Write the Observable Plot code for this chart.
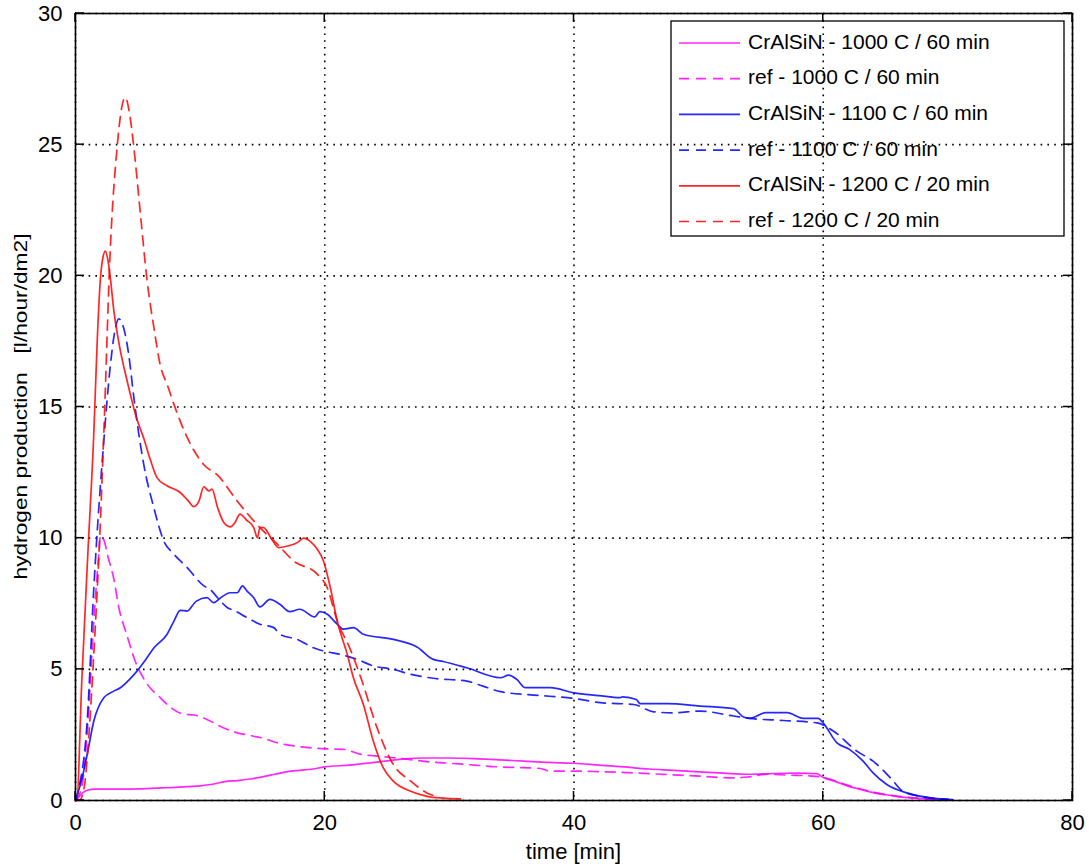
<!DOCTYPE html>
<html>
<head>
<meta charset="utf-8">
<script src="https://cdn.jsdelivr.net/npm/d3@7"></script>
<script src="https://cdn.jsdelivr.net/npm/@observablehq/plot@0.6"></script>
<style>
  html, body { margin: 0; padding: 0; background: #fff; }
  #chart { width: 1089px; height: 866px; }
  svg { font-family: "Liberation Sans", Arial, Helvetica, sans-serif; }
</style>
</head>
<body>
<div id="chart"></div>
<script>
// ---- data ----
const xTicks = [0, 20, 40, 60, 80];
const yTicks = [0, 5, 10, 15, 20, 25, 30];

// CrAlSiN - 1000 C / 60 min (magenta, solid)
const mag_solid_t = [0, 0.3, 0.6, 1.0, 1.5, 2, 3, 4, 5, 6, 7, 8, 9, 10, 11, 12, 13, 14, 15, 16, 17, 18, 19, 20, 22, 24, 26, 28, 30, 32, 34, 36, 38, 40, 42, 44, 46, 48, 50, 52, 54, 56, 58, 59.5, 60, 61, 62, 63, 64, 65, 66, 67, 68, 69, 70];
const mag_solid_v = [0, 0.15, 0.3, 0.4, 0.43, 0.43, 0.43, 0.43, 0.44, 0.46, 0.48, 0.5, 0.53, 0.56, 0.62, 0.72, 0.76, 0.82, 0.9, 1.0, 1.1, 1.15, 1.2, 1.28, 1.35, 1.45, 1.57, 1.62, 1.62, 1.6, 1.55, 1.5, 1.45, 1.42, 1.35, 1.28, 1.2, 1.15, 1.09, 1.04, 1.0, 1.03, 1.04, 1.02, 0.88, 0.72, 0.55, 0.42, 0.3, 0.22, 0.15, 0.1, 0.07, 0.04, 0.02];

// ref - 1000 C / 60 min (magenta, dashed)
const mag_ref_t = [0, 0.5, 1.0, 1.47, 1.87, 2.0, 2.3, 2.6, 3.05, 3.5, 4.1, 4.8, 5.75, 6.8, 7.5, 8.7, 9.5, 10.8, 11.5, 12.7, 14.3, 15, 16.2, 18, 20, 21.5, 22.9, 24, 25.5, 27, 28.7, 30, 32, 34, 36, 37.3, 38.1, 40, 42, 44.8, 47, 50, 52.8, 54, 55.5, 57, 59.2, 60, 61, 62, 63, 64, 65, 66, 67, 68, 69, 70];
const mag_ref_v = [0, 0.5, 3.0, 6.84, 9.39, 10.1, 9.9, 9.3, 8.5, 7.3, 6.34, 5.3, 4.44, 3.92, 3.6, 3.29, 3.26, 3.03, 2.85, 2.62, 2.45, 2.38, 2.2, 2.05, 1.97, 1.95, 1.76, 1.7, 1.63, 1.55, 1.46, 1.42, 1.35, 1.28, 1.25, 1.22, 1.12, 1.12, 1.1, 1.05, 1.0, 0.93, 0.86, 0.9, 1.0, 0.97, 0.93, 0.88, 0.74, 0.58, 0.44, 0.32, 0.23, 0.16, 0.11, 0.07, 0.04, 0.02];

// CrAlSiN - 1100 C / 60 min (blue, solid)
const blue_solid_t = [0, 0.5, 0.94, 1.47, 2.27, 3.0, 3.6, 4.3, 4.95, 5.6, 6.3, 7.35, 7.9, 8.4, 8.96, 9.5, 9.7, 10.55, 11.1, 11.6, 12.4, 12.97, 13.4, 13.75, 14.3, 14.8, 15.6, 16.4, 17.2, 18.0, 19.2, 19.6, 20.2, 21.0, 21.5, 22.3, 23.1, 25.5, 27.4, 28.7, 29.5, 31.4, 34.1, 34.75, 35.4, 36.1, 38.1, 40, 42, 43.7, 43.9, 45, 45.3, 47.5, 50.1, 52.8, 53.6, 54.1, 55.4, 57.1, 58.4, 59.6, 60.0, 61.1, 62.1, 63.2, 64.0, 65.1, 66.7, 68.6, 70.4];
const blue_solid_v = [0, 0.8, 1.76, 3.03, 3.92, 4.15, 4.3, 4.6, 4.94, 5.35, 5.82, 6.34, 6.84, 7.25, 7.22, 7.5, 7.6, 7.73, 7.54, 7.71, 7.92, 7.92, 8.18, 7.99, 7.73, 7.38, 7.67, 7.48, 7.2, 7.29, 7.0, 7.2, 7.1, 6.72, 6.53, 6.59, 6.34, 6.14, 5.85, 5.38, 5.3, 5.06, 4.68, 4.78, 4.62, 4.3, 4.3, 4.1, 4.0, 3.92, 3.95, 3.85, 3.69, 3.69, 3.6, 3.5, 3.18, 3.13, 3.35, 3.35, 3.13, 3.13, 2.95, 2.2, 1.95, 1.5, 1.05, 0.61, 0.29, 0.1, 0.03];

// ref - 1100 C / 60 min (blue, dashed)
const blue_ref_t = [0, 0.27, 0.94, 1.47, 2.27, 2.8, 3.2, 3.47, 3.87, 4.27, 4.68, 5.08, 5.48, 6.28, 7.08, 7.9, 8.96, 10.3, 10.8, 11.4, 12.2, 12.7, 13.77, 14.8, 15.9, 16.4, 17.8, 19.1, 19.9, 21.25, 22.6, 23.9, 25.5, 26.9, 28.7, 31.4, 32.7, 34.1, 36.75, 40, 42.1, 44.8, 46.4, 48, 50.1, 52.8, 54.1, 56.8, 59.5, 60.8, 62.7, 64.0, 65.4, 66.4, 67.8, 70];
const blue_ref_v = [0, 0.48, 3.03, 8.1, 13.7, 16.6, 18.0, 18.36, 18.0, 17.0, 15.37, 13.97, 12.8, 11.17, 9.9, 9.39, 8.88, 8.18, 8.05, 7.73, 7.35, 7.25, 6.97, 6.72, 6.59, 6.34, 6.14, 5.82, 5.7, 5.57, 5.38, 5.13, 5.0, 4.81, 4.66, 4.55, 4.36, 4.15, 4.02, 3.89, 3.73, 3.66, 3.38, 3.34, 3.41, 3.22, 3.13, 3.05, 2.96, 2.65, 1.88, 1.5, 0.86, 0.35, 0.16, 0.05];

// CrAlSiN - 1200 C / 20 min (red, solid)
const red_solid_t = [0, 0.1, 0.5, 1.0, 1.47, 1.75, 2.0, 2.2, 2.4, 2.6, 2.8, 3.07, 3.5, 4.14, 4.95, 5.48, 6.0, 6.55, 7.35, 8.4, 9.0, 9.5, 9.9, 10.3, 10.7, 10.95, 11.4, 11.9, 12.45, 12.8, 13.2, 13.7, 14.3, 14.6, 14.8, 15.1, 15.7, 16.3, 17.0, 17.8, 18.3, 18.9, 19.4, 19.9, 20.45, 21.0, 21.8, 22.3, 23.1, 23.9, 24.7, 25.5, 26.9, 28.2, 29.5, 30.9];
const red_solid_v = [0, 0, 4.5, 9.5, 14.0, 17.6, 19.9, 20.7, 20.94, 20.6, 19.9, 18.7, 17.4, 16.0, 14.5, 13.8, 13.0, 12.3, 12.0, 11.74, 11.45, 11.2, 11.4, 11.96, 11.8, 11.87, 11.17, 10.6, 10.43, 10.6, 10.92, 10.7, 10.4, 10.02, 10.4, 10.4, 10.0, 9.64, 9.7, 9.83, 10.0, 9.85, 9.58, 9.13, 8.11, 6.84, 5.58, 4.68, 3.66, 2.26, 1.24, 0.74, 0.35, 0.16, 0.09, 0.06];

// ref - 1200 C / 20 min (red, dashed)
const red_ref_t = [0, 0.3, 0.7, 1.0, 1.47, 2.0, 2.27, 2.8, 3.34, 3.7, 4.0, 4.3, 4.68, 5.2, 5.75, 6.3, 6.8, 7.4, 7.9, 8.96, 10.3, 11.4, 12.97, 14.8, 16.2, 17.5, 19.4, 20.2, 21.0, 22.0, 22.9, 24.2, 25.5, 26.9, 28.2, 29];
const red_ref_v = [0, 0, 0.5, 2.0, 5.58, 10.66, 13.97, 21.1, 24.9, 26.4, 26.8, 26.3, 24.9, 22.4, 19.8, 18.0, 16.6, 15.8, 15.1, 13.84, 12.8, 12.4, 11.42, 10.4, 9.77, 9.13, 8.63, 8.11, 6.84, 5.82, 4.68, 2.77, 1.37, 0.74, 0.29, 0.15];

const seriesNames = [
  "CrAlSiN - 1000 C / 60 min", "ref - 1000 C / 60 min",
  "CrAlSiN - 1100 C / 60 min", "ref - 1100 C / 60 min",
  "CrAlSiN - 1200 C / 20 min", "ref - 1200 C / 20 min"
];
const seriesColors = ["#ff00ff", "#ff00ff", "#0000ff", "#0000ff", "#ff0000", "#ff0000"];
const seriesDashed = [false, true, false, true, false, true];

// ---- build table ----
const tArrays = [mag_solid_t, mag_ref_t, blue_solid_t, blue_ref_t, red_solid_t, red_ref_t];
const vArrays = [mag_solid_v, mag_ref_v, blue_solid_v, blue_ref_v, red_solid_v, red_ref_v];
const series = seriesNames.map((name, i) => ({
  name, color: seriesColors[i], dashed: seriesDashed[i],
  data: tArrays[i].map((t, j) => ({t, v: vArrays[i][j]}))
}));

const W = 1089, H = 866;
const mL = 75, mR = 17, mT = 13, mB = 66;
const DASH = "10,7";
const TICK = 9;
const LW = 1.7;

const marks = [
  Plot.gridX(xTicks, {stroke: "black", strokeOpacity: 1, strokeWidth: 1.6, strokeDasharray: "1.6,5.2"}),
  Plot.gridY(yTicks, {stroke: "black", strokeOpacity: 1, strokeWidth: 1.6, strokeDasharray: "1.6,5.2"}),
];
for (const s of series) {
  marks.push(Plot.line(s.data, {
    x: "t", y: "v", stroke: s.color, strokeWidth: LW,
    strokeDasharray: s.dashed ? DASH : null, strokeOpacity: 0.85, curve: "monotone-x"
  }));
}
marks.push(
  Plot.axisX({anchor: "bottom", ticks: xTicks, tickSize: 0, tickPadding: 14, fontSize: 22, label: null}),
  Plot.axisY({anchor: "left", ticks: yTicks, tickSize: 0, tickPadding: 13, fontSize: 22, label: null}),
  Plot.frame({stroke: "black", strokeWidth: 1.6})
);

const svg = Plot.plot({
  width: W, height: H,
  marginLeft: mL, marginRight: mR, marginTop: mT, marginBottom: mB,
  x: {domain: [0, 80]},
  y: {domain: [0, 30]},
  style: {fontFamily: '"Liberation Sans", Arial, Helvetica, sans-serif', color: "black", background: "white", overflow: "visible"},
  marks
});
document.getElementById("chart").appendChild(svg);

const s = d3.select(svg);
const xs = svg.scale("x"), ys = svg.scale("y");
const [x0, x1] = xs.range, [y0, y1] = ys.range; // y0 bottom, y1 top

// ---- inward tick marks on all four sides ----
const tg = s.append("g").attr("stroke", "black").attr("stroke-width", 1.5);
for (const t of xTicks) {
  const px = xs.apply(t);
  tg.append("line").attr("x1", px).attr("x2", px).attr("y1", y0).attr("y2", y0 - TICK);
  tg.append("line").attr("x1", px).attr("x2", px).attr("y1", y1).attr("y2", y1 + TICK);
}
for (const t of yTicks) {
  const py = ys.apply(t);
  tg.append("line").attr("x1", x0).attr("x2", x0 + TICK).attr("y1", py).attr("y2", py);
  tg.append("line").attr("x1", x1).attr("x2", x1 - TICK).attr("y1", py).attr("y2", py);
}

// ---- axis titles ----
s.append("text")
  .attr("transform", `translate(22,${(y0 + y1) / 2}) rotate(-90)`)
  .attr("text-anchor", "middle").attr("dominant-baseline", "middle")
  .attr("font-size", 19).attr("fill", "black")
  .attr("textLength", 346).attr("lengthAdjust", "spacingAndGlyphs")
  .text("hydrogen production   [l/hour/dm2]");
s.append("text")
  .attr("x", (x0 + x1) / 2).attr("y", 853)
  .attr("text-anchor", "middle").attr("dominant-baseline", "middle")
  .attr("font-size", 22).attr("fill", "black")
  .text("time [min]");

// ---- legend (transparent box, inside plot) ----
const lg = s.append("g").attr("text-anchor", "start");
lg.append("rect").attr("x", 671).attr("y", 21).attr("width", 393).attr("height", 215)
  .attr("fill", "none").attr("stroke", "black").attr("stroke-width", 1.3);
series.forEach((d, i) => {
  const y = 43 + i * 35.7;
  lg.append("line").attr("x1", 679).attr("x2", 740).attr("y1", y).attr("y2", y)
    .attr("stroke", d.color).attr("stroke-width", LW).attr("stroke-opacity", 0.85)
    .attr("stroke-dasharray", d.dashed ? DASH : null);
  lg.append("text").attr("x", 748).attr("y", y).attr("dominant-baseline", "middle")
    .attr("text-anchor", "start")
    .attr("font-size", 21).attr("fill", "black").text(d.name);
});
</script>
</body>
</html>
